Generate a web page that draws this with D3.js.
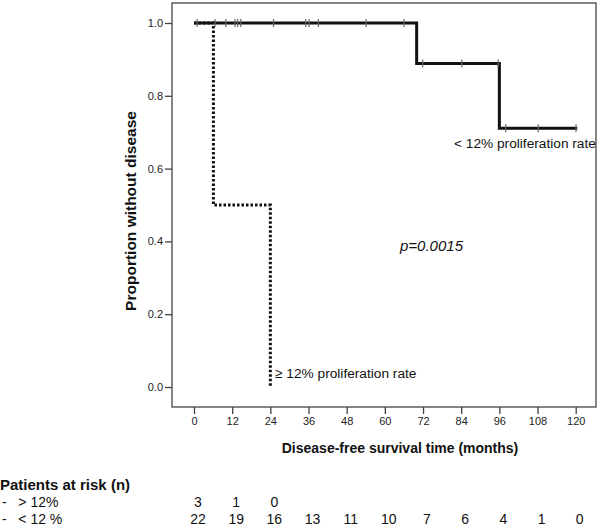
<!DOCTYPE html>
<html>
<head>
<meta charset="utf-8">
<script src="https://cdn.jsdelivr.net/npm/d3@7"></script>
<style>
  html, body { margin: 0; padding: 0; background: #fff; }
  svg { display: block; font-family: "Liberation Sans", Arial, sans-serif; }
</style>
</head>
<body>
<svg id="chart" width="600" height="528"></svg>
<script>
// ---- Data ----
const xTicks = [0, 12, 24, 36, 48, 60, 72, 84, 96, 108, 120];
const yTicks = [0.0, 0.2, 0.4, 0.6, 0.8, 1.0];

// < 12% proliferation rate (solid)
const lowTimes = [0, 70, 96, 120.5];
const lowSurv  = [1.0, 0.889, 0.711, 0.711];
const lowCensored = [1, 6.6, 10, 12.9, 13.7, 14.7, 25, 35.1, 36.2, 39.1, 54.1, 66, 71.9, 84.2, 95.6, 98, 108.2, 120.1];

// >= 12% proliferation rate (dotted)
const highTimes = [0, 6.1, 24];
const highSurv  = [1.0, 0.5, 0.0];

// Patients at risk
const riskHighLabel = "-   > 12%";
const riskLowLabel  = "-   < 12 %";
const riskHigh = [3, 1, 0];
const riskLow  = [22, 19, 16, 13, 11, 10, 7, 6, 4, 1, 0];

// ---- Chart ----
const svg = d3.select("#chart");
const frame = {left: 172, right: 596, top: 3, bottom: 407};
const x = d3.scaleLinear().domain([0, 120]).range([194, 575.7]);
const y = d3.scaleLinear().domain([0, 1]).range([387, 23]);

// frame
svg.append("rect")
  .attr("x", frame.left).attr("y", frame.top)
  .attr("width", frame.right - frame.left).attr("height", frame.bottom - frame.top)
  .attr("fill", "none").attr("stroke", "#444").attr("stroke-width", 1.3);

// y axis
const yAxis = svg.append("g")
  .attr("transform", `translate(${frame.left},0)`)
  .call(d3.axisLeft(y).tickValues(yTicks).tickFormat(d3.format(".1f")).tickSize(7).tickPadding(2));
yAxis.select(".domain").remove();
yAxis.selectAll("line").attr("stroke", "#444").attr("stroke-width", 1.3);
yAxis.selectAll("text").attr("font-size", 11).attr("fill", "#222")
  .attr("font-family", "Liberation Sans, Arial, sans-serif");

// x axis
const xAxis = svg.append("g")
  .attr("transform", `translate(0,${frame.bottom})`)
  .call(d3.axisBottom(x).tickValues(xTicks).tickFormat(d3.format("d")).tickSize(7).tickPadding(3));
xAxis.select(".domain").remove();
xAxis.selectAll("line").attr("stroke", "#444").attr("stroke-width", 1.3);
xAxis.selectAll("text").attr("font-size", 11).attr("fill", "#222")
  .attr("font-family", "Liberation Sans, Arial, sans-serif");

// axis titles
svg.append("text")
  .attr("transform", "translate(136,211) rotate(-90)")
  .attr("text-anchor", "middle")
  .attr("font-size", 15.5).attr("font-weight", "bold").attr("fill", "#111")
  .text("Proportion without disease");

svg.append("text")
  .attr("x", 400).attr("y", 453)
  .attr("text-anchor", "middle")
  .attr("font-size", 14).attr("font-weight", "bold").attr("fill", "#111")
  .text("Disease-free survival time (months)");

// curves
const line = d3.line().x(d => x(d[0])).y(d => y(d[1])).curve(d3.curveStepAfter);
const lowPts = lowTimes.map((t, i) => [t, lowSurv[i]]);
const highPts = highTimes.map((t, i) => [t, highSurv[i]]);

svg.append("path")
  .attr("d", line(highPts))
  .attr("fill", "none").attr("stroke", "#111").attr("stroke-width", 3)
  .attr("stroke-dasharray", "2.5,2");

svg.append("path")
  .attr("d", line(lowPts))
  .attr("fill", "none").attr("stroke", "#111").attr("stroke-width", 3);

// censor marks
function survAt(t) {
  let s = lowSurv[0];
  for (let i = 0; i < lowTimes.length; i++) if (t >= lowTimes[i]) s = lowSurv[i];
  return s;
}
svg.append("g").selectAll("line")
  .data(lowCensored).join("line")
  .attr("x1", d => x(d)).attr("x2", d => x(d))
  .attr("y1", d => y(survAt(d)) - 4).attr("y2", d => y(survAt(d)) + 4)
  .attr("stroke", "#666").attr("stroke-width", 1.2);

// annotations
svg.append("text").attr("x", 454).attr("y", 148)
  .attr("font-size", 13.7).attr("fill", "#111")
  .text("< 12% proliferation rate");
svg.append("text").attr("x", 275).attr("y", 378)
  .attr("font-size", 13.7).attr("fill", "#111")
  .text("\u2265 12% proliferation rate");
svg.append("text").attr("x", 400).attr("y", 251)
  .attr("font-size", 15).attr("font-style", "italic").attr("fill", "#111")
  .text("p=0.0015");

// risk table
svg.append("text").attr("x", 0).attr("y", 490)
  .attr("font-size", 15).attr("font-weight", "bold").attr("fill", "#111")
  .text("Patients at risk (n)");
svg.append("text").attr("x", 2).attr("y", 507)
  .attr("font-size", 14).attr("fill", "#111").attr("xml:space", "preserve")
  .style("white-space", "pre").text(riskHighLabel);
svg.append("text").attr("x", 2).attr("y", 524)
  .attr("font-size", 14).attr("fill", "#111").attr("xml:space", "preserve")
  .style("white-space", "pre").text(riskLowLabel);

svg.append("g").selectAll("text")
  .data(riskHigh).join("text")
  .attr("x", (d, i) => x(xTicks[i]) + 4).attr("y", 507)
  .attr("text-anchor", "middle").attr("font-size", 14).attr("fill", "#111")
  .text(d => d);
svg.append("g").selectAll("text")
  .data(riskLow).join("text")
  .attr("x", (d, i) => x(xTicks[i]) + 4).attr("y", 524)
  .attr("text-anchor", "middle").attr("font-size", 14).attr("fill", "#111")
  .text(d => d);
</script>
</body>
</html>
